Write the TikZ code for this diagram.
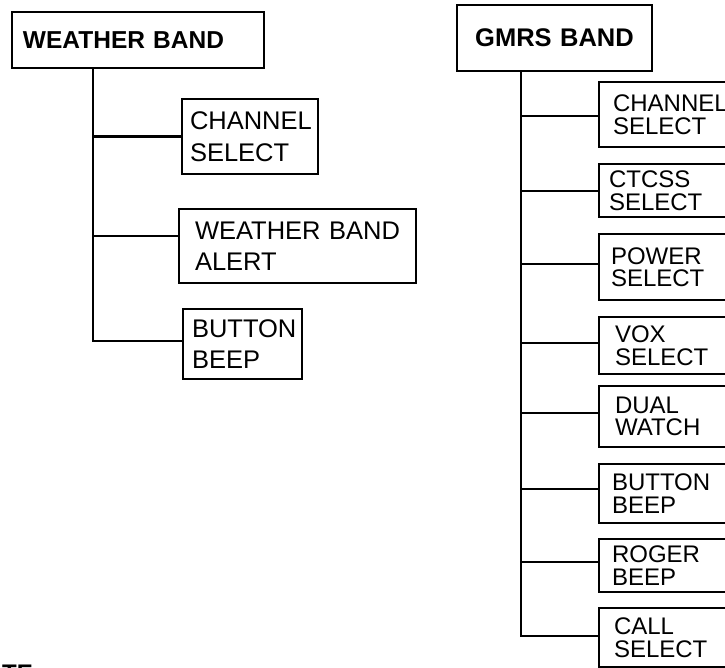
\documentclass[tikz,border=0pt]{standalone}
\usepackage{fontspec}
\setmainfont{Liberation Sans}
\tikzset{
  box/.style={draw, line width=2.6pt, rectangle, inner ysep=0pt, align=left, anchor=center},
  lft/.style={font=\fontsize{25.5}{31.5}\selectfont},
  rgt/.style={font=\fontsize{24}{22.5}\selectfont},
  conn/.style={line width=2.6pt},
}
\begin{document}
\begin{tikzpicture}[x=1pt,y=-1pt]
\clip (0,0) rectangle (725,668);
% left tree
\node[box, font=\bfseries\fontsize{24.5}{28}\selectfont, text width=230pt, inner xsep=11pt, minimum height=56pt] (wb) at (138,40) {WEATHER BAND};
\node[box, lft, text width=120pt, inner xsep=8pt, minimum height=75pt] (c1) at (250,136.5) {CHANNEL\\SELECT};
\node[box, lft, text width=205pt, inner xsep=16pt, minimum height=74pt] (c2) at (297.5,246) {WEATHER BAND\\ALERT};
\node[box, lft, text width=101pt, inner xsep=9pt, minimum height=70pt] (c3) at (242.5,344) {BUTTON\\BEEP};
\coordinate (lt) at (wb.south west -| 93,0);
\draw[conn] (lt) |- (c3.west |- 0,341);
\draw[conn] (c1.west) -- (c1.west -| lt);
\draw[conn] (c2.west |- 0,236) -- (lt |- 0,236);
% right tree
\node[box, align=center, font=\bfseries\fontsize{25.5}{28}\selectfont, text width=175pt, inner xsep=10pt, minimum height=66pt] (g) at (554.5,38) {GMRS BAND};
\node[box, rgt, text width=118pt, inner xsep=14pt, minimum height=65pt] (r1) at (672,114.5) {CHANNEL\\SELECT};
\node[box, rgt, text width=126pt, inner xsep=10pt, minimum height=53pt] (r2) at (672,190.5) {CTCSS\\SELECT};
\node[box, rgt, text width=122pt, inner xsep=12pt, minimum height=66pt] (r3) at (672,267) {POWER\\SELECT};
\node[box, rgt, text width=114pt, inner xsep=16pt, minimum height=57pt] (r4) at (672,345.5) {VOX\\SELECT};
\node[box, rgt, text width=114pt, inner xsep=16pt, minimum height=61pt] (r5) at (672,416.5) {DUAL\\WATCH};
\node[box, rgt, text width=120pt, inner xsep=13pt, minimum height=59pt] (r6) at (672,493.5) {BUTTON\\BEEP};
\node[box, rgt, text width=120pt, inner xsep=13pt, minimum height=53pt] (r7) at (672,565.5) {ROGER\\BEEP};
\node[box, rgt, text width=116pt, inner xsep=15pt, minimum height=59pt] (r8) at (672,637.5) {CALL\\SELECT};
\coordinate (rt) at (g.south -| 521,0);
\draw[conn] (rt) |- (r8.west |- 0,636);
\draw[conn] (r1.west |- 0,116) -- (rt |- 0,116);
\draw[conn] (r2.west |- 0,191) -- (rt |- 0,191);
\draw[conn] (r3.west |- 0,264) -- (rt |- 0,264);
\draw[conn] (r4.west |- 0,343) -- (rt |- 0,343);
\draw[conn] (r5.west |- 0,413) -- (rt |- 0,413);
\draw[conn] (r6.west |- 0,489) -- (rt |- 0,489);
\draw[conn] (r7.west |- 0,562) -- (rt |- 0,562);
% cut-off note, as in the reference
\node[font=\bfseries\fontsize{24}{28}\selectfont, anchor=north west, inner sep=0pt] (note) at (-34,665) {NOTE:};
\end{tikzpicture}
\end{document}
